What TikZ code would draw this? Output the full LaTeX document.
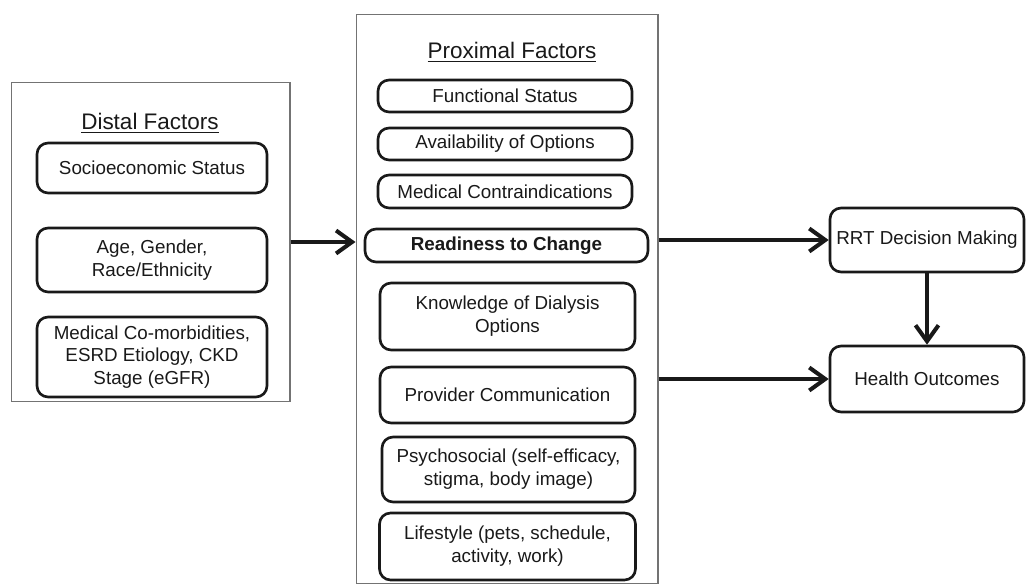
\documentclass[tikz,border=0pt]{standalone}
\usepackage{fontspec}
\setmainfont{Liberation Sans}
\usetikzlibrary{arrows.meta}

\begin{document}
\begin{tikzpicture}[x=0.02cm, y=-0.02cm,
    frame/.style={draw=black!55, line width=0.6pt, inner sep=0pt},
    factor/.style={draw=black!90, line width=1.5pt, rounded corners=2.2mm, inner sep=0pt,
      align=center, text=black!90, font=\fontsize{10.7}{13}\selectfont},
    heading/.style={text=black!90, font=\fontsize{12.8}{15}\selectfont},
    link/.style={draw=black!90, line width=2.3pt, -{Straight Barb[length=3.2mm, width=4.6mm, line width=2.3pt]}}]

        \useasboundingbox (0, 0) rectangle (1027, 584);

        % distal factors
        \node [frame, minimum width=5.58cm, minimum height=6.4cm] (distal) at (150.5, 242) {};
        \node [heading] (dtitle) at (150, 123) {\underline{Distal Factors}};
        \node [factor, minimum width=4.6cm, minimum height=1.0cm] (ses) at (152, 168) {Socioeconomic Status};
        \node [factor, minimum width=4.6cm, minimum height=1.28cm] (age) at (152, 260) {Age, Gender,\\Race/Ethnicity};
        \node [factor, minimum width=4.6cm, minimum height=1.6cm] (med) at (152, 357) {Medical Co-morbidities,\\ESRD Etiology, CKD\\Stage (eGFR)};

        % proximal factors
        \node [frame, minimum width=6.04cm, minimum height=11.4cm] (prox) at (507, 299) {};
        \node [heading] (ptitle) at (512, 52) {\underline{Proximal Factors}};
        \node [factor, minimum width=5.08cm, minimum height=0.64cm] (func) at (505, 96) {Functional Status};
        \node [factor, minimum width=5.08cm, minimum height=0.64cm] (avail) at (505, 144) {Availability of Options};
        \node [factor, minimum width=5.08cm, minimum height=0.66cm] (contra) at (505, 191.5) {Medical Contraindications};
        \node [factor, minimum width=5.66cm, minimum height=0.66cm, font=\fontsize{10.7}{13}\selectfont\bfseries] (ready) at (506.5, 245.5) {Readiness to Change};
        \node [factor, minimum width=5.1cm, minimum height=1.34cm] (know) at (507.5, 316.5) {Knowledge of Dialysis\\Options};
        \node [factor, minimum width=5.1cm, minimum height=1.12cm] (prov) at (507.5, 395) {Provider Communication};
        \node [factor, minimum width=5.06cm, minimum height=1.3cm] (psy) at (508.5, 469.5) {Psychosocial (self-efficacy,\\stigma, body image)};
        \node [factor, minimum width=5.12cm, minimum height=1.34cm] (life) at (507.5, 546.5) {Lifestyle (pets, schedule,\\activity, work)};

        % outcomes
        \node [factor, minimum width=3.88cm, minimum height=1.28cm] (rrt) at (927, 240) {RRT Decision Making};
        \node [factor, minimum width=3.88cm, minimum height=1.32cm] (health) at (927, 379) {Health Outcomes};

        % arrows
        \draw [link] (distal.east) -- (distal.east -| prox.west);
        \draw [link] (rrt.west -| prox.east) -- (rrt.west);
        \draw [link] (health.west -| prox.east) -- (health.west);
        \draw [link] (rrt.south) -- (health.north);

      \end{tikzpicture}
\end{document}
